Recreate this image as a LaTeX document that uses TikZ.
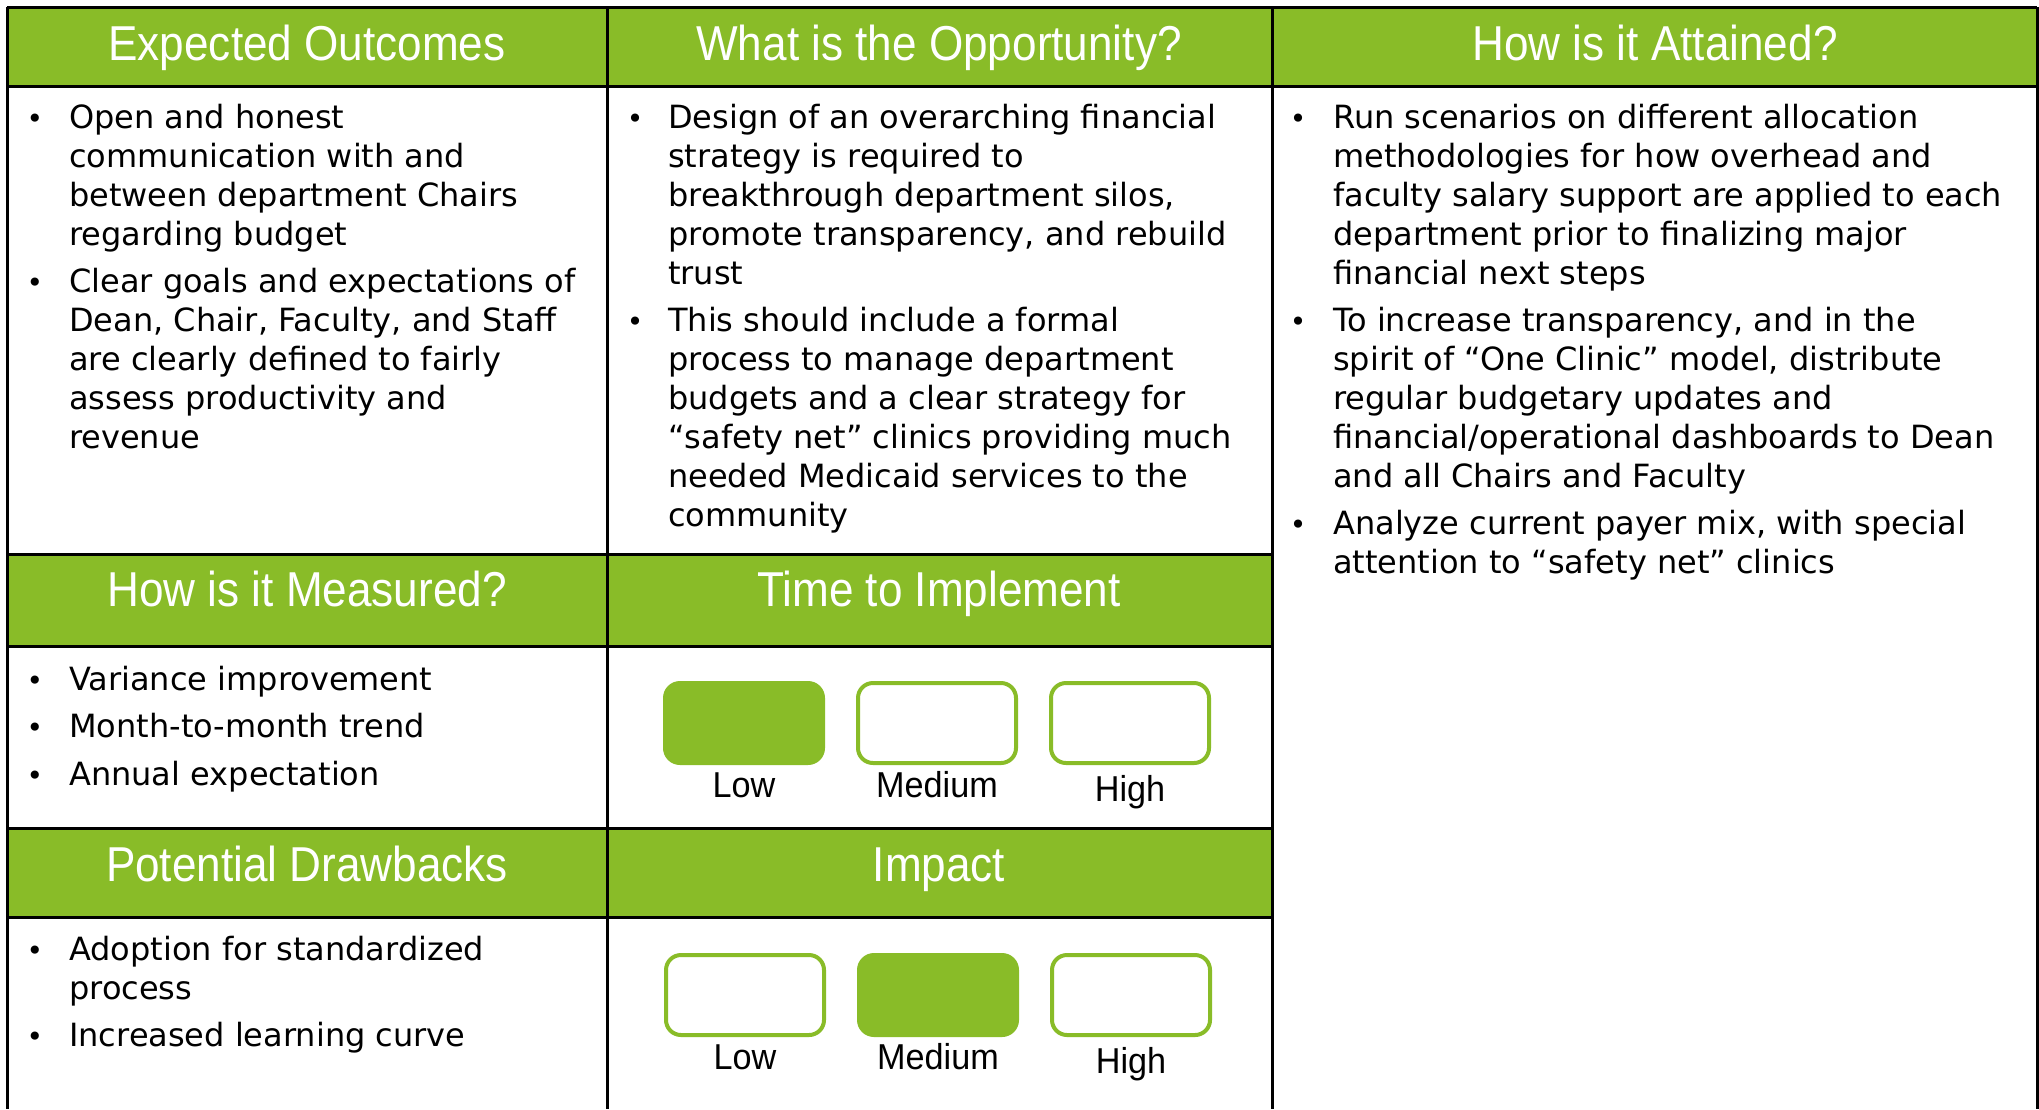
\documentclass[tikz,border=0pt]{standalone}
\usepackage{fontspec}
\setmainfont{DejaVu Sans}
\newfontfamily\headfont[FakeStretch=0.9]{Liberation Sans}
\newfontfamily\labfont[FakeStretch=0.95]{Liberation Sans}
\definecolor{lime}{RGB}{137,188,40}
\tikzset{
  grid/.style={line width=3pt, black},
  hdr/.style={fill=lime, draw=none},
  hdrtext/.style={anchor=base, inner sep=0pt, text=white, font=\headfont\fontsize{49}{55}\selectfont},
  body/.style={anchor=north west, inner sep=0pt, align=left, font=\fontsize{32}{39}\selectfont, yshift=25pt},
  bul/.style={anchor=base, inner sep=0pt, font=\fontsize{28}{39}\selectfont, yshift=-2pt},
  levelon/.style={fill=lime, draw=lime, line width=4pt, rounded corners=15pt, minimum width=158pt, minimum height=80pt, inner sep=0pt},
  leveloff/.style={fill=white, draw=lime, line width=4pt, rounded corners=15pt, minimum width=158pt, minimum height=80pt, inner sep=0pt},
  lab/.style={anchor=base, inner sep=0pt, font=\labfont\fontsize{36}{40}\selectfont},
}
\begin{document}
\begin{tikzpicture}[x=1pt, y=-1pt]
\useasboundingbox (0,0) rectangle (2039,1109);
\fill[white] (0,0) rectangle (2039,1109);
% header fills
\fill[hdr] (7,7) rectangle (2037,86);
\fill[hdr] (7,554) rectangle (1272,646);
\fill[hdr] (7,828) rectangle (1272,917);
% grid lines
\draw[grid] (7,7) -- (2037,7);
\draw[grid] (7,86) -- (2037,86);
\draw[grid] (7,554) -- (1272,554);
\draw[grid] (7,646) -- (1272,646);
\draw[grid] (7,828) -- (1272,828);
\draw[grid] (7,917) -- (1272,917);
\draw[grid] (7,7) -- (7,1109);
\draw[grid] (607,7) -- (607,1109);
\draw[grid] (1272,7) -- (1272,1109);
\draw[grid] (2037,7) -- (2037,1109);
% headers
\node[hdrtext] (h1) at (307,60) {Expected Outcomes};
\node[hdrtext] (h2) at (939,60) {What is the Opportunity?};
\node[hdrtext] (h3) at (1655,60) {How is it Attained?};
\node[hdrtext] (h4) at (307,606) {How is it Measured?};
\node[hdrtext] (h5) at (939,606) {Time to Implement};
\node[hdrtext] (h6) at (307,881) {Potential Drawbacks};
\node[hdrtext] (h7) at (939,881) {Impact};
% column 1
\node[bul] (b11) at (35,126) {•};
\node[body] (t11) at (69,126) {\strut Open and honest\\communication with and\\between department Chairs\\regarding budget};
\node[bul] (b12) at (35,290) {•};
\node[body] (t12) at (69,290) {\strut Clear goals and expectations of\\Dean, Chair, Faculty, and Staff\\are clearly defined to fairly\\assess productivity and\\revenue};
% column 2
\node[bul] (b21) at (635,126) {•};
\node[body] (t21) at (668,126) {\strut Design of an overarching financial\\strategy is required to\\breakthrough department silos,\\promote transparency, and rebuild\\trust};
\node[bul] (b22) at (635,329) {•};
\node[body] (t22) at (668,329) {\strut This should include a formal\\process to manage department\\budgets and a clear strategy for\\“safety net” clinics providing much\\needed Medicaid services to the\\community};
% column 3
\node[bul] (b31) at (1298,126) {•};
\node[body] (t31) at (1333,126) {\strut Run scenarios on different allocation\\methodologies for how overhead and\\faculty salary support are applied to each\\department prior to finalizing major\\financial next steps};
\node[bul] (b32) at (1298,329) {•};
\node[body] (t32) at (1333,329) {\strut To increase transparency, and in the\\spirit of “One Clinic” model, distribute\\regular budgetary updates and\\financial/operational dashboards to Dean\\and all Chairs and Faculty};
\node[bul] (b33) at (1298,532) {•};
\node[body] (t33) at (1333,532) {\strut Analyze current payer mix, with special\\attention to “safety net” clinics};
% measured
\node[bul] (b41) at (35,688) {•};
\node[body] (t41) at (69,688) {\strut Variance improvement};
\node[bul] (b42) at (35,735) {•};
\node[body] (t42) at (69,735) {\strut Month-to-month trend};
\node[bul] (b43) at (35,783) {•};
\node[body] (t43) at (69,783) {\strut Annual expectation};
% drawbacks
\node[bul] (b61) at (35,958) {•};
\node[body] (t61) at (69,958) {\strut Adoption for standardized\\process};
\node[bul] (b62) at (35,1044) {•};
\node[body] (t62) at (69,1044) {\strut Increased learning curve};
% time to implement
\node[levelon]  (tl) at (744,723) {};
\node[leveloff] (tm) at (937,723) {};
\node[leveloff] (th) at (1130,723) {};
\node[lab] (tll) at (744,797) {Low};
\node[lab] (tml) at (937,797) {Medium};
\node[lab] (thl) at (1130,801) {High};
% impact
\node[leveloff] (il) at (745,995) {};
\node[levelon]  (im) at (938,995) {};
\node[leveloff] (ih) at (1131,995) {};
\node[lab] (ill) at (745,1069) {Low};
\node[lab] (iml) at (938,1069) {Medium};
\node[lab] (ihl) at (1131,1073) {High};
\end{tikzpicture}
\end{document}
